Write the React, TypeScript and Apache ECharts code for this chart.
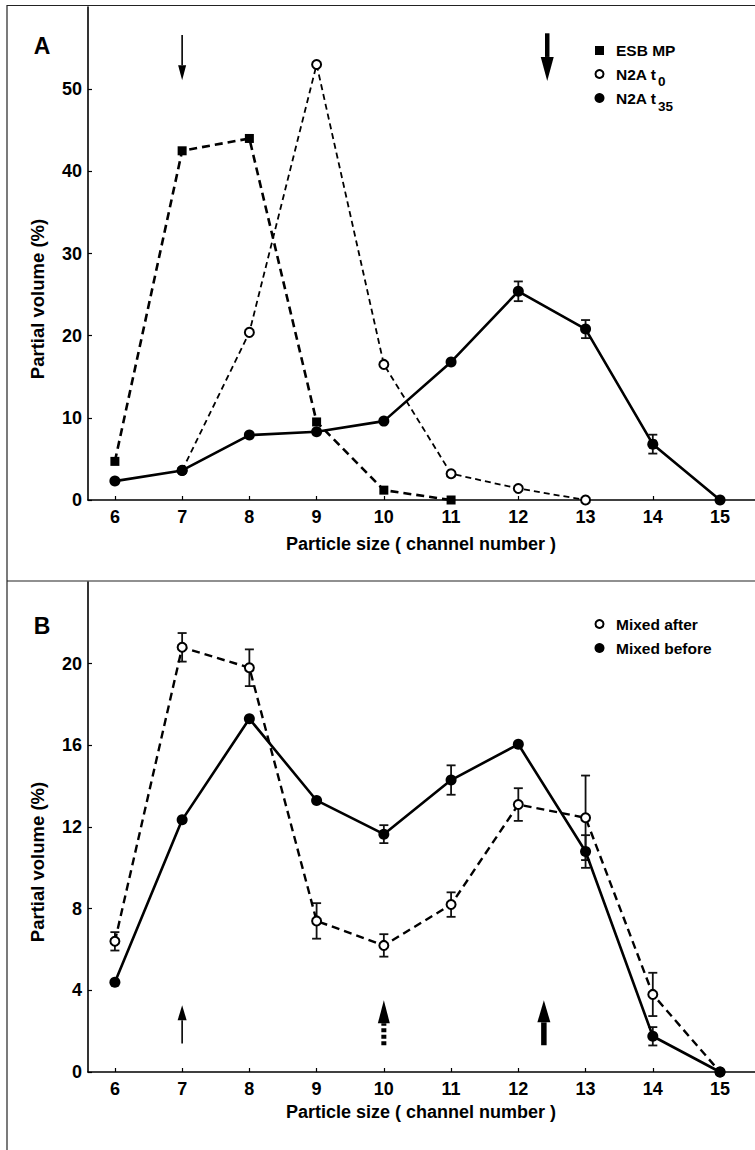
import React, { useEffect, useRef } from "react";
import * as echarts from "echarts";

// ---------- data ----------
const xTicks = [6, 7, 8, 9, 10, 11, 12, 13, 14, 15];
const yTicksA = [0, 10, 20, 30, 40, 50];
const yTicksB = [0, 4, 8, 12, 16, 20];

// Panel A
const esbMP = [[6, 4.7], [7, 42.5], [8, 44.0], [9, 9.5], [10, 1.2], [11, 0]];
const n2aT0 = [[7, 3.6], [8, 20.4], [9, 53.0], [10, 16.5], [11, 3.2], [12, 1.4], [13, 0]];
const n2aT35 = [[6, 2.3], [7, 3.6], [8, 7.9], [9, 8.3], [10, 9.6], [11, 16.8], [12, 25.4], [13, 20.8], [14, 6.8], [15, 0]];
const n2aT35Err = [[12, 1.2], [13, 1.1], [14, 1.15]];

// Panel B
const mixedAfter = [[6, 6.4], [7, 20.8], [8, 19.8], [9, 7.4], [10, 6.2], [11, 8.2], [12, 13.1], [13, 12.45], [14, 3.8], [15, 0]];
const mixedAfterErr = [[6, 0.45], [7, 0.7], [8, 0.9], [9, 0.87], [10, 0.55], [11, 0.6], [12, 0.8], [13, 2.07], [14, 1.06]];
const mixedBefore = [[6, 4.4], [7, 12.35], [8, 17.3], [9, 13.3], [10, 11.65], [11, 14.3], [12, 16.05], [13, 10.8], [14, 1.75], [15, 0]];
const mixedBeforeErr = [[10, 0.44], [11, 0.72], [13, 0.8], [14, 0.45]];

// Arrows: [x, tail value, tip value]
const thinArrowsA = [[7, 56.6, 51.1]];
const thickArrowsA = [[12.43, 56.8, 51.0]];
const thinArrowsB = [[7, 1.39, 3.27]];
const dashedArrowsB = [[10, 1.31, 3.51]];
const thickArrowsB = [[12.38, 1.31, 3.51]];

const FONT = "'Liberation Sans', Arial, Helvetica, sans-serif";

function withErr(series: number[][], errs: number[][]) {
  return errs.map(([x, e]) => {
    const v = (series.find((p) => p[0] === x) as number[])[1];
    return [x, v - e, v + e];
  });
}

function errorBarSeries(data: number[][], axisIdx: number) {
  return {
    type: "custom",
    xAxisIndex: axisIdx,
    yAxisIndex: axisIdx,
    silent: true,
    z: 1,
    data,
    renderItem: (_p: any, api: any) => {
      const x = api.value(0);
      const lo = api.coord([x, api.value(1)]);
      const hi = api.coord([x, api.value(2)]);
      const w = 4.5;
      const style = { stroke: "#111", lineWidth: 1.8 };
      return {
        type: "group",
        children: [
          { type: "line", shape: { x1: lo[0], y1: lo[1], x2: hi[0], y2: hi[1] }, style },
          { type: "line", shape: { x1: lo[0] - w, y1: lo[1], x2: lo[0] + w, y2: lo[1] }, style },
          { type: "line", shape: { x1: hi[0] - w, y1: hi[1], x2: hi[0] + w, y2: hi[1] }, style },
        ],
      };
    },
  };
}

function arrowSeries(data: number[][], axisIdx: number, shaftW: number, headW: number, headL: number, dash?: number[]) {
  return {
    type: "custom",
    xAxisIndex: axisIdx,
    yAxisIndex: axisIdx,
    silent: true,
    z: 3,
    data,
    renderItem: (_p: any, api: any) => {
      const x = api.value(0);
      const tail = api.coord([x, api.value(1)]);
      const tip = api.coord([x, api.value(2)]);
      const dir = Math.sign(tip[1] - tail[1]);
      const baseY = tip[1] - dir * headL;
      return {
        type: "group",
        children: [
          {
            type: "line",
            shape: { x1: tail[0], y1: tail[1], x2: tail[0], y2: baseY },
            style: { stroke: "#000", lineWidth: shaftW, lineDash: dash || null },
          },
          {
            type: "polygon",
            shape: { points: [[tip[0], tip[1]], [tip[0] - headW / 2, baseY], [tip[0] + headW / 2, baseY]] },
            style: { fill: "#000" },
          },
        ],
      };
    },
  };
}

function xAxisDef(gridIndex: number) {
  return {
    type: "value",
    gridIndex,
    min: 5.6,
    max: 15.52,
    axisLine: { show: true, onZero: false, lineStyle: { color: "#000", width: 1.6 } },
    axisTick: { show: true, inside: true, length: 4, customValues: xTicks, lineStyle: { color: "#000", width: 1.2 } },
    axisLabel: { customValues: xTicks, color: "#000", fontSize: 18, fontWeight: "bold", fontFamily: FONT, margin: 8 },
    splitLine: { show: false },
  };
}

function yAxisDef(gridIndex: number, max: number, ticks: number[]) {
  return {
    type: "value",
    gridIndex,
    min: 0,
    max,
    axisLine: { show: true, lineStyle: { color: "#000", width: 1.6 } },
    axisTick: { show: true, inside: true, length: 4, customValues: ticks, lineStyle: { color: "#000", width: 1.2 } },
    axisLabel: { customValues: ticks, color: "#000", fontSize: 18, fontWeight: "bold", fontFamily: FONT, margin: 6 },
    splitLine: { show: false },
  };
}

function txt(x: number, y: number, text: string, size: number, opts: any = {}) {
  return {
    type: "text",
    x,
    y,
    rotation: opts.rotation || 0,
    style: {
      text,
      fill: "#000",
      font: `${opts.weight || "bold"} ${size}px ${FONT}`,
      textAlign: opts.align || "left",
      textVerticalAlign: "middle",
    },
  };
}

export default function App() {
  const ref = useRef<HTMLDivElement>(null);
  useEffect(() => {
    if (!ref.current) return;
    const chart = echarts.init(ref.current, null, { renderer: "svg" });

    const lineBase = { type: "line", silent: true, z: 2 };

    const option: any = {
      animation: false,
      backgroundColor: "#fff",
      grid: [
        { left: 88, top: 7, right: 0, height: 493, containLabel: false, outerBoundsMode: "none" },
        { left: 88, top: 582, right: 0, height: 490, containLabel: false, outerBoundsMode: "none" },
      ],
      xAxis: [xAxisDef(0), xAxisDef(1)],
      yAxis: [yAxisDef(0, 60, yTicksA), yAxisDef(1, 24, yTicksB)],
      series: [
        // Panel A
        {
          ...lineBase, name: "ESB MP", xAxisIndex: 0, yAxisIndex: 0, data: esbMP,
          symbol: "rect", symbolSize: 9,
          itemStyle: { color: "#000" },
          lineStyle: { color: "#000", width: 2.6, type: [8, 5] },
        },
        {
          ...lineBase, name: "N2A t0", xAxisIndex: 0, yAxisIndex: 0, data: n2aT0,
          symbol: "circle", symbolSize: 9,
          itemStyle: { color: "#fff", borderColor: "#000", borderWidth: 2 },
          lineStyle: { color: "#000", width: 1.8, type: [6, 4] },
        },
        {
          ...lineBase, name: "N2A t35", xAxisIndex: 0, yAxisIndex: 0, data: n2aT35,
          symbol: "circle", symbolSize: 11,
          itemStyle: { color: "#000" },
          lineStyle: { color: "#000", width: 2.6 },
        },
        errorBarSeries(withErr(n2aT35, n2aT35Err), 0),
        arrowSeries(thinArrowsA, 0, 1.6, 8, 15),
        arrowSeries(thickArrowsA, 0, 4.5, 13, 24),
        // Panel B
        {
          ...lineBase, name: "Mixed after", xAxisIndex: 1, yAxisIndex: 1, data: mixedAfter,
          symbol: "circle", symbolSize: 9,
          itemStyle: { color: "#fff", borderColor: "#000", borderWidth: 2 },
          lineStyle: { color: "#000", width: 2.4, type: [8, 5] },
        },
        {
          ...lineBase, name: "Mixed before", xAxisIndex: 1, yAxisIndex: 1, data: mixedBefore,
          symbol: "circle", symbolSize: 11,
          itemStyle: { color: "#000" },
          lineStyle: { color: "#000", width: 2.6 },
        },
        errorBarSeries(withErr(mixedAfter, mixedAfterErr), 1),
        errorBarSeries(withErr(mixedBefore, mixedBeforeErr), 1),
        arrowSeries(thinArrowsB, 1, 1.6, 9, 15),
        arrowSeries(dashedArrowsB, 1, 5, 12, 23, [4, 2.5]),
        arrowSeries(thickArrowsB, 1, 5.5, 13, 22),
      ],
      graphic: [
        // frame
        { type: "line", shape: { x1: 7, y1: 5, x2: 7, y2: 1150 }, style: { stroke: "#222", lineWidth: 1.2 } },
        { type: "line", shape: { x1: 7, y1: 5.5, x2: 755, y2: 5.5 }, style: { stroke: "#222", lineWidth: 1.2 } },
        { type: "line", shape: { x1: 7, y1: 581, x2: 755, y2: 581 }, style: { stroke: "#222", lineWidth: 1.2 } },
        // panel letters
        txt(42, 46, "A", 23, { align: "center" }),
        txt(42, 626, "B", 23, { align: "center" }),
        // axis titles
        txt(37, 299, "Partial volume (%)", 18.5, { rotation: Math.PI / 2, align: "center" }),
        txt(37, 862, "Partial volume (%)", 18.5, { rotation: Math.PI / 2, align: "center" }),
        txt(421, 544, "Particle size ( channel number )", 18, { align: "center" }),
        txt(421, 1112, "Particle size ( channel number )", 18, { align: "center" }),
        // legend A
        { type: "rect", shape: { x: 595, y: 46, width: 9, height: 9 }, style: { fill: "#000" } },
        txt(616, 50, "ESB MP", 15.5),
        { type: "circle", shape: { cx: 599.5, cy: 74, r: 4 }, style: { fill: "#fff", stroke: "#000", lineWidth: 2 } },
        txt(616, 74, "N2A t", 15.5),
        txt(658, 81, "0", 13.5),
        { type: "circle", shape: { cx: 599.5, cy: 98, r: 5 }, style: { fill: "#000" } },
        txt(616, 98, "N2A t", 15.5),
        txt(658, 106, "35", 13.5),
        // legend B
        { type: "circle", shape: { cx: 599.5, cy: 624, r: 4 }, style: { fill: "#fff", stroke: "#000", lineWidth: 2 } },
        txt(616, 624, "Mixed after", 15.5),
        { type: "circle", shape: { cx: 599.5, cy: 648, r: 5 }, style: { fill: "#000" } },
        txt(616, 648, "Mixed before", 15.5),
      ],
    };

    chart.setOption(option);
    return () => chart.dispose();
  }, []);

  return (
    <div
      ref={ref}
      style={{ position: "absolute", left: 0, top: 0, width: 755, height: 1150, background: "#fff" }}
    />
  );
}
